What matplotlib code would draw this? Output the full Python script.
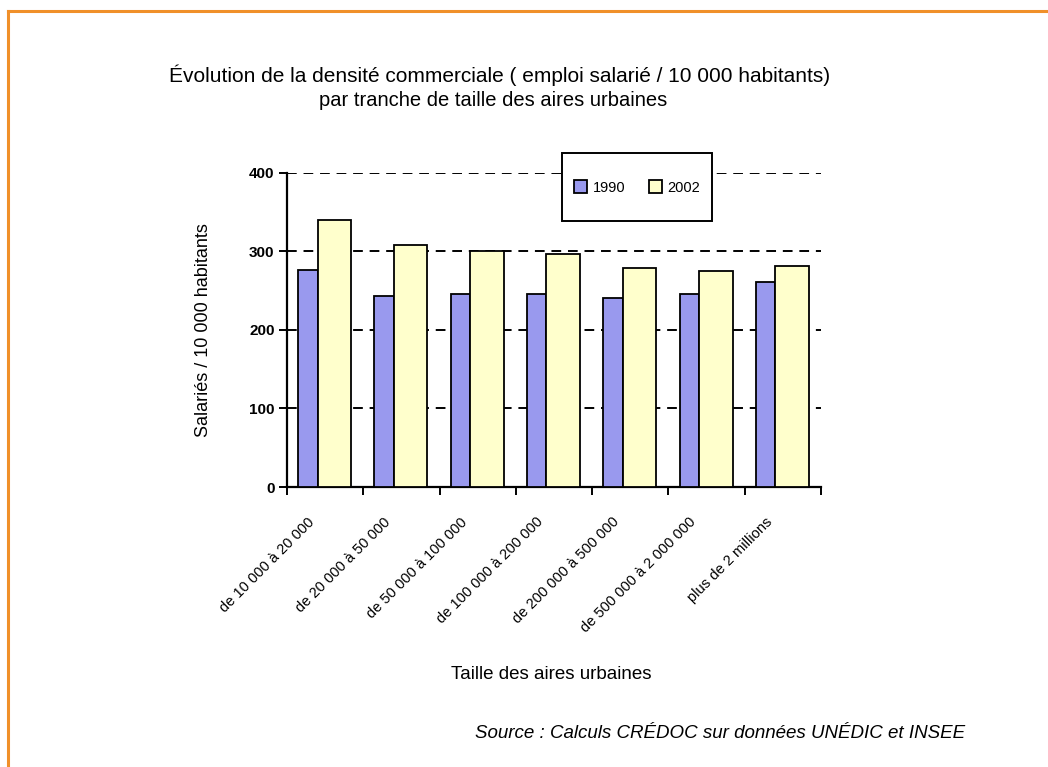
import numpy as np
import matplotlib.pyplot as plt
import matplotlib.transforms as mtransforms
from matplotlib.patches import Rectangle
from matplotlib.lines import Line2D

plt.rcParams['font.family'] = ['Liberation Sans', 'DejaVu Sans']

categories = ['de 10 000 à 20 000', 'de 20 000 à 50 000', 'de 50 000 à 100 000',
              'de 100 000 à 200 000', 'de 200 000 à 500 000',
              'de 500 000 à 2 000 000', 'plus de 2 millions']
v1990 = [276, 243, 246, 246, 240, 246, 261]
v2002 = [340, 308, 300, 297, 279, 275, 281]
yticks = [0, 100, 200, 300, 400]

c1990 = '#9999ee'
c2002 = '#ffffcc'

fig = plt.figure(figsize=(10.48, 7.67), dpi=100)
fig.patch.set_facecolor('white')

# orange page frame (top and left edges only)
fig.add_artist(Line2D([0.0075, 0.0075], [0, 0.986], color='#f0902a', lw=2.2,
                      transform=fig.transFigure))
fig.add_artist(Line2D([0.0075, 1.0], [0.986, 0.986], color='#f0902a', lw=2.2,
                      transform=fig.transFigure))

ax = fig.add_axes([0.2739, 0.365, 0.5095, 0.4098])

x = np.arange(len(categories))
ax.bar(x - 0.5 + 0.145, v1990, width=0.255, align='edge', color=c1990,
       edgecolor='black', linewidth=1.3, zorder=3, label='1990')
ax.bar(x - 0.5 + 0.40, v2002, width=0.44, align='edge', color=c2002,
       edgecolor='black', linewidth=1.3, zorder=3, label='2002')

ax.set_xlim(-0.5, len(categories) - 0.5)
ax.set_ylim(0, 400)
for y in yticks[1:]:
    ax.axhline(y, color='black', lw=1.4, ls=(0, (5, 3.5)), zorder=1)

for s in ['top', 'right']:
    ax.spines[s].set_visible(False)
for s in ['left', 'bottom']:
    ax.spines[s].set_linewidth(1.6)

ax.set_yticks(yticks)
ax.set_yticklabels([str(v) for v in yticks], fontsize=11, fontweight='bold')
ax.tick_params(axis='y', length=6, width=1.4, pad=3)

ax.set_xticks(x)
ax.set_xticklabels(categories, rotation=45, ha='right', rotation_mode='anchor',
                   fontsize=10.5)
ax.tick_params(axis='x', which='major', length=0, pad=20)
ax.set_xticks(np.arange(len(categories) + 1) - 0.5, minor=True)
ax.tick_params(axis='x', which='minor', length=6, width=1.4)
shift = mtransforms.ScaledTranslation(-18 / 100, 0, fig.dpi_scale_trans)
for lab in ax.get_xticklabels():
    lab.set_transform(lab.get_transform() + shift)

ax.set_ylabel('Salariés / 10 000 habitants', fontsize=13, labelpad=27)

fig.text(0.477, 0.902, 'Évolution de la densité commerciale ( emploi salarié / 10 000 habitants)',
         ha='center', va='center', fontsize=15)
fig.text(0.471, 0.869, 'par tranche de taille des aires urbaines',
         ha='center', va='center', fontsize=14.5)
fig.text(0.526, 0.120, 'Taille des aires urbaines', ha='center', va='center',
         fontsize=13.5)
fig.text(0.687, 0.044, 'Source : Calculs CRÉDOC sur données UNÉDIC et INSEE',
         ha='center', va='center', fontsize=13.5, style='italic')

# legend box
fig.add_artist(Rectangle((0.5363, 0.712), 0.1431, 0.0887, transform=fig.transFigure,
                         facecolor='white', edgecolor='black', lw=1.4, zorder=5))
fig.legend(loc='center', bbox_to_anchor=(0.6078, 0.7555), ncol=2, frameon=False,
           fontsize=10.5, handlelength=0.9, handleheight=0.9, handletextpad=0.4,
           columnspacing=1.6)

fig.savefig('out.png', dpi=100)
